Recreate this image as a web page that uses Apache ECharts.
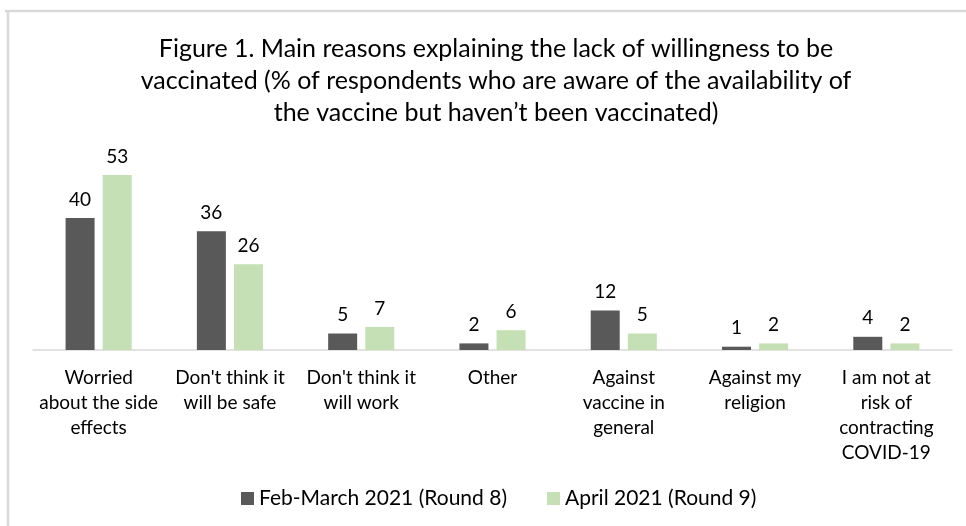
<!DOCTYPE html>
<html>
<head>
<meta charset="utf-8">
<script src="https://cdn.jsdelivr.net/npm/echarts@6/dist/echarts.min.js"></script>
<style>
html,body{margin:0;padding:0;background:#fff;}
#chart{width:966px;height:526px;}
</style>
</head>
<body>
<div id="chart"></div>
<script>
const titleText = "Figure 1. Main reasons explaining the lack of willingness to be\nvaccinated (% of respondents who are aware of the availability of\nthe vaccine but haven’t been vaccinated)";
const categories = [
  "Worried\nabout the side\neffects",
  "Don't think it\nwill be safe",
  "Don't think it\nwill work",
  "Other",
  "Against\nvaccine in\ngeneral",
  "Against my\nreligion",
  "I am not at\nrisk of\ncontracting\nCOVID-19"
];
const seriesNames = ["Feb-March 2021 (Round 8)", "April 2021 (Round 9)"];
const round8 = [40, 36, 5, 2, 12, 1, 4];
const round9 = [53, 26, 7, 6, 5, 2, 2];

const FONT = "Lato, 'Open Sans', sans-serif";
const chart = echarts.init(document.getElementById('chart'));
chart.setOption({
  animation: false,
  backgroundColor: '#ffffff',
  textStyle: { fontFamily: FONT },
  title: {
    text: titleText,
    left: 491,
    textAlign: 'center',
    top: 28,
    textStyle: { fontFamily: FONT, fontSize: 25, fontWeight: 'normal', color: '#000000', lineHeight: 32 }
  },
  legend: {
    bottom: 12,
    left: 236,
    itemWidth: 13,
    itemHeight: 13,
    itemGap: 40,
    icon: 'rect',
    textStyle: { fontFamily: FONT, fontSize: 21, color: '#000000' },
    data: seriesNames
  },
  graphic: [
    { type: 'line', shape: { x1: 5, y1: 11, x2: 966, y2: 11 }, style: { stroke: '#d9d9d9', lineWidth: 2.5 } },
    { type: 'line', shape: { x1: 8, y1: 10, x2: 8, y2: 526 }, style: { stroke: '#d9d9d9', lineWidth: 2.5 } }
  ],
  grid: { left: 33, right: 14, top: 152, bottom: 176, containLabel: false },
  xAxis: {
    type: 'category',
    data: categories,
    axisLine: { lineStyle: { color: '#d9d9d9', width: 1.5 } },
    axisTick: { show: false },
    axisLabel: { interval: 0, margin: 15, fontFamily: FONT, fontSize: 19, color: '#000000', lineHeight: 25 }
  },
  yAxis: {
    type: 'value',
    min: 0,
    max: 60,
    show: false,
    splitLine: { show: false }
  },
  series: [
    {
      name: seriesNames[0],
      type: 'bar',
      data: round8,
      barWidth: 29,
      barGap: '28%',
      itemStyle: { color: '#595959' },
      label: { show: true, position: 'top', distance: 9, fontFamily: FONT, fontSize: 19, color: '#000000' }
    },
    {
      name: seriesNames[1],
      type: 'bar',
      data: round9,
      barWidth: 29,
      barGap: '28%',
      itemStyle: { color: '#c5e0b4' },
      label: { show: true, position: 'top', distance: 9, fontFamily: FONT, fontSize: 19, color: '#000000' }
    }
  ]
});
</script>
</body>
</html>
